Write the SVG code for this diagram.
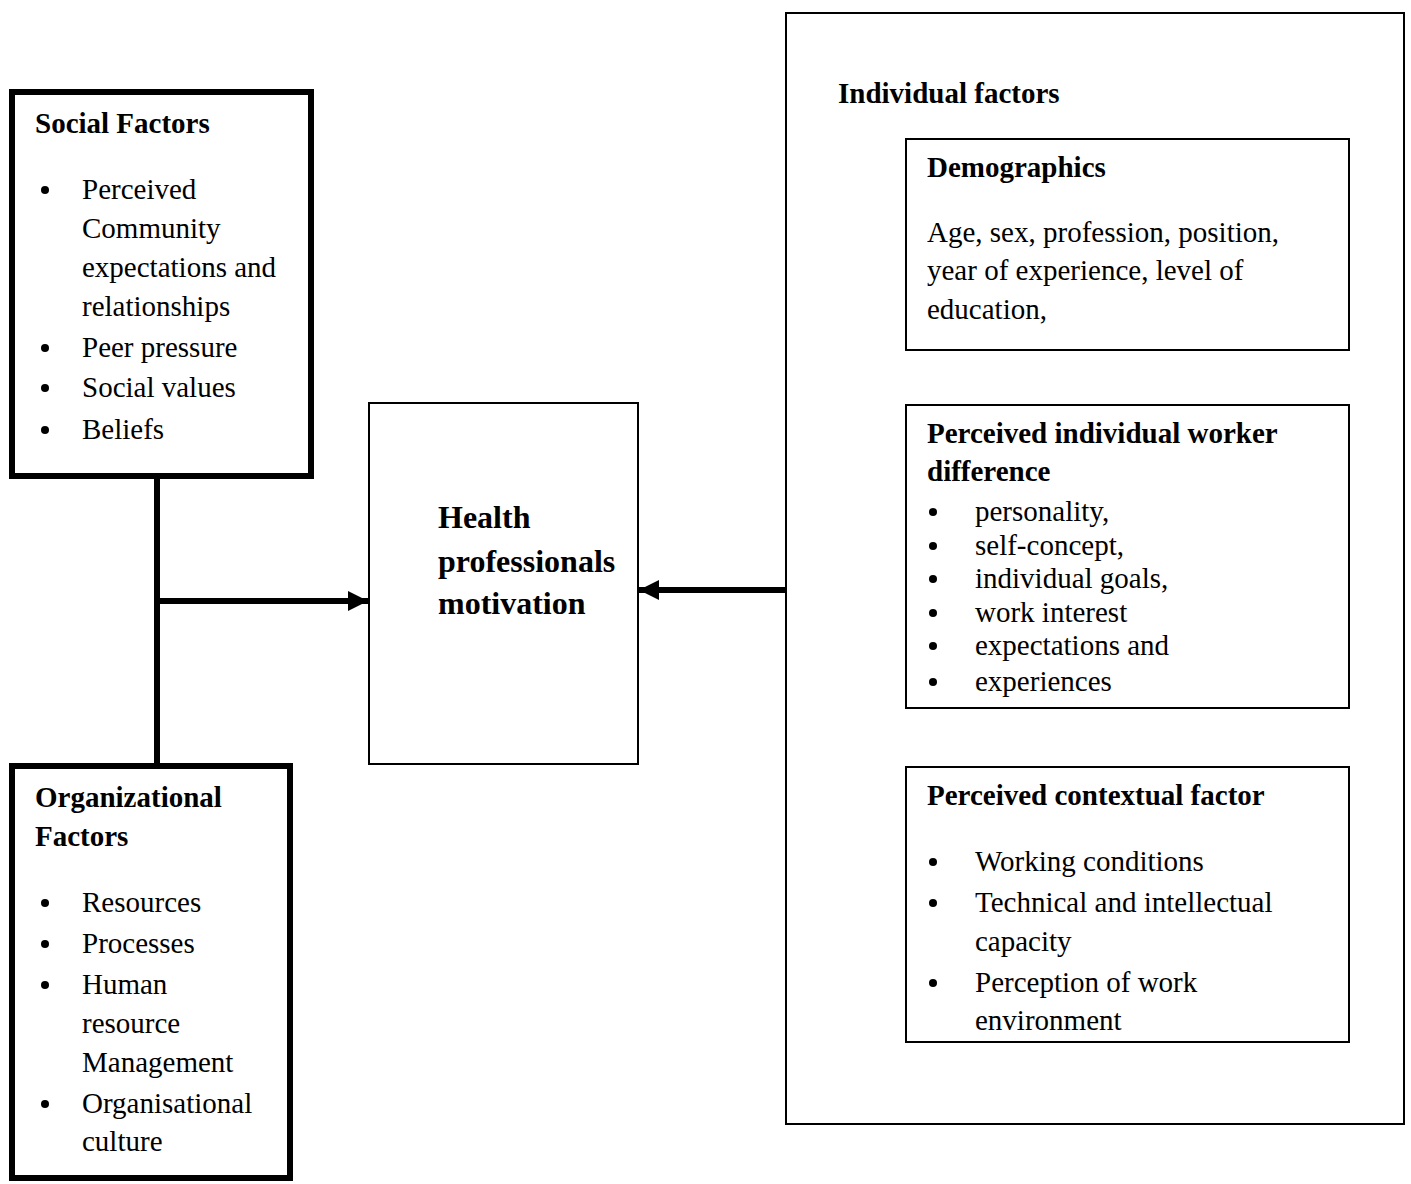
<svg xmlns="http://www.w3.org/2000/svg" width="1411" height="1184" viewBox="0 0 1411 1184">
<style>
text{font-family:"Liberation Serif","Times New Roman",serif;font-size:29px;fill:#000}
.b{font-weight:bold}
.big{font-weight:bold;font-size:32px}
.thick{fill:#fff;stroke:#000;stroke-width:6}
.thin{fill:#fff;stroke:#000;stroke-width:2}
.conn{stroke:#000;stroke-width:6;fill:none}
</style>
<defs>
<marker id="ah" markerUnits="userSpaceOnUse" markerWidth="22" markerHeight="22" refX="20" refY="10" orient="auto">
<path d="M0,0 L20,10 L0,20 Z" fill="#000"/>
</marker>
</defs>
<rect width="1411" height="1184" fill="#fff"/>
<g id="connectors">
<line class="conn" x1="157" y1="476" x2="157" y2="766"/>
<line class="conn" x1="157" y1="601" x2="368" y2="601" marker-end="url(#ah)"/>
<line class="conn" x1="786" y1="590" x2="639" y2="590" marker-end="url(#ah)"/>
</g>
<g id="social">
<rect class="thick" x="12" y="92" width="299" height="384"/>
<text class="b" x="35" y="133">Social Factors</text>
<g fill="#000"><circle cx="45" cy="190" r="4"/><circle cx="45" cy="348" r="4"/><circle cx="45" cy="388" r="4"/><circle cx="45" cy="430" r="4"/></g>
<text x="82" y="199">Perceived</text>
<text x="82" y="238">Community</text>
<text x="82" y="277">expectations and</text>
<text x="82" y="316">relationships</text>
<text x="82" y="357">Peer pressure</text>
<text x="82" y="397">Social values</text>
<text x="82" y="439">Beliefs</text>
</g>
<g id="organizational">
<rect class="thick" x="12" y="766" width="278" height="412"/>
<text class="b" x="35" y="807">Organizational</text>
<text class="b" x="35" y="846">Factors</text>
<g fill="#000"><circle cx="45" cy="903" r="4"/><circle cx="45" cy="944" r="4"/><circle cx="45" cy="985" r="4"/><circle cx="45" cy="1104" r="4"/></g>
<text x="82" y="912">Resources</text>
<text x="82" y="953">Processes</text>
<text x="82" y="994">Human</text>
<text x="82" y="1033">resource</text>
<text x="82" y="1072">Management</text>
<text x="82" y="1113">Organisational</text>
<text x="82" y="1151">culture</text>
</g>
<g id="motivation">
<rect class="thin" x="369" y="403" width="269" height="361"/>
<text class="big" x="438" y="528">Health</text>
<text class="big" x="438" y="572">professionals</text>
<text class="big" x="438" y="614">motivation</text>
</g>
<g id="individual">
<rect class="thin" x="786" y="13" width="618" height="1111"/>
<text class="b" x="838" y="103">Individual factors</text>
</g>
<g id="demographics">
<rect class="thin" x="906" y="139" width="443" height="211"/>
<text class="b" x="927" y="177">Demographics</text>
<text x="927" y="242">Age, sex, profession, position,</text>
<text x="927" y="280">year of experience, level of</text>
<text x="927" y="319">education,</text>
</g>
<g id="worker-difference">
<rect class="thin" x="906" y="405" width="443" height="303"/>
<text class="b" x="927" y="443">Perceived individual worker</text>
<text class="b" x="927" y="481">difference</text>
<g fill="#000"><circle cx="933" cy="512" r="4"/><circle cx="933" cy="546" r="4"/><circle cx="933" cy="579" r="4"/><circle cx="933" cy="613" r="4"/><circle cx="933" cy="646" r="4"/><circle cx="933" cy="682" r="4"/></g>
<text x="975" y="521">personality,</text>
<text x="975" y="555">self-concept,</text>
<text x="975" y="588">individual goals,</text>
<text x="975" y="622">work interest</text>
<text x="975" y="655">expectations and</text>
<text x="975" y="691">experiences</text>
</g>
<g id="contextual">
<rect class="thin" x="906" y="767" width="443" height="275"/>
<text class="b" x="927" y="805">Perceived contextual factor</text>
<g fill="#000"><circle cx="933" cy="862" r="4"/><circle cx="933" cy="903" r="4"/><circle cx="933" cy="983" r="4"/></g>
<text x="975" y="871">Working conditions</text>
<text x="975" y="912">Technical and intellectual</text>
<text x="975" y="951">capacity</text>
<text x="975" y="992">Perception of work</text>
<text x="975" y="1030">environment</text>
</g>
</svg>
